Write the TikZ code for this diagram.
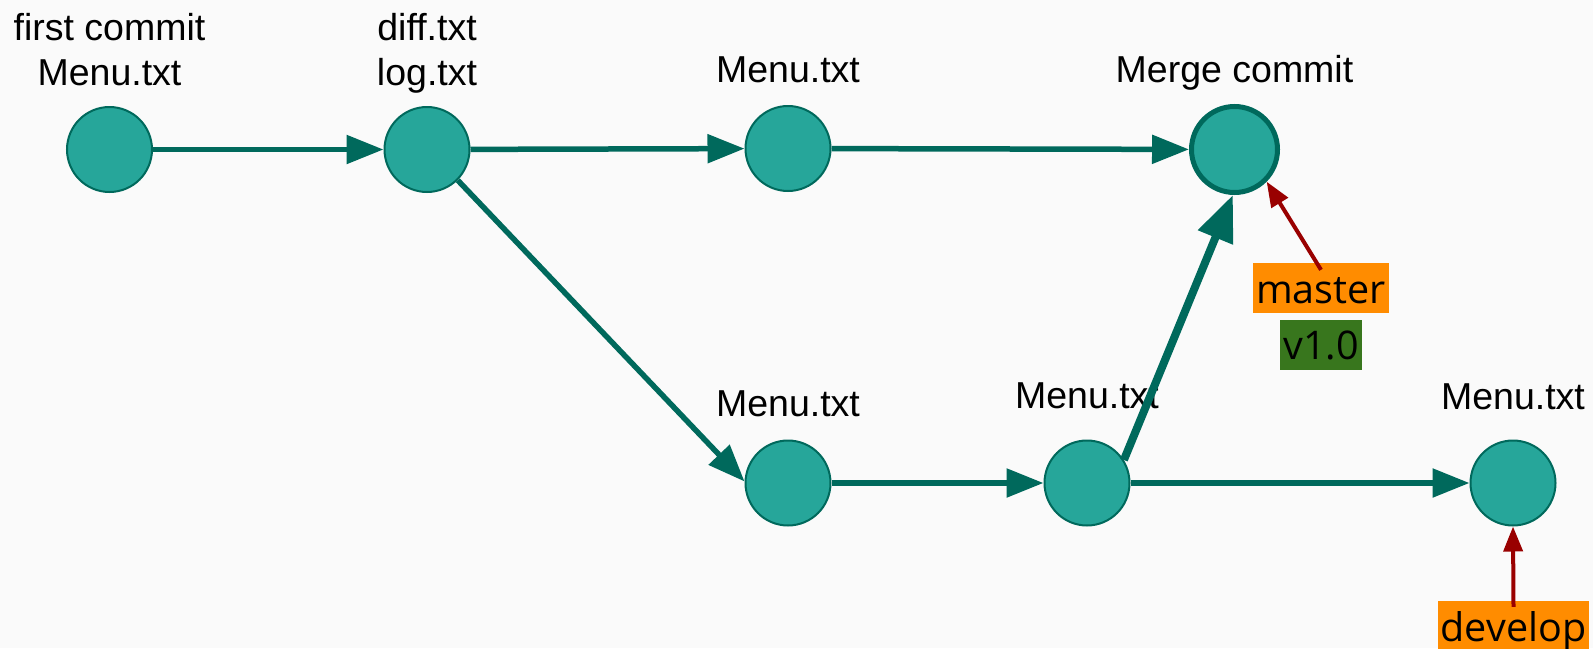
\documentclass[tikz,border=0pt]{standalone}
\usepackage{fontspec}
\setmainfont{Liberation Sans}
\newfontfamily\tagfont{Open Sans}
\usetikzlibrary{arrows.meta,calc}
\definecolor{bg}{HTML}{FAFAFA}
\definecolor{tealfill}{HTML}{26A69A}
\definecolor{tealdark}{HTML}{00695C}
\definecolor{tagred}{HTML}{990000}
\definecolor{tagorange}{HTML}{FF8C00}
\definecolor{taggreen}{HTML}{38761D}
\begin{document}
\begin{tikzpicture}[x=1pt,y=-1pt,
 commit/.style={circle,fill=tealfill,draw=tealdark,line width=2pt,minimum size=85pt,inner sep=0pt},
 mergecommit/.style={commit,line width=5pt,minimum size=86pt},
 lbl/.style={font=\fontsize{37.5}{45}\selectfont,inner sep=0pt,anchor=base},
 lbltwo/.style={font=\fontsize{37.5}{45}\selectfont,inner sep=0pt,anchor=north,align=center},
 edge/.style={draw=tealdark,line width=5.5pt,-{Triangle[length=37pt,width=28pt]}},
 bigedge/.style={draw=tealdark,line width=8pt,-{Triangle[length=46pt,width=36pt]}},
 ptr/.style={draw=tagred,line width=4pt,-{Triangle[length=25pt,width=19pt]}},
 tag/.style={font=\tagfont\fontsize{39.5}{47}\selectfont,inner xsep=3pt,inner ysep=0pt,text height=40pt,text depth=10pt}
]
\fill[bg] (0,0) rectangle (1593,648);
\useasboundingbox (0,0) rectangle (1593,648);

% commits
\node[commit] (A) at (109.5,149.5) {};
\node[commit] (B) at (427,149.5) {};
\node[commit] (C) at (788,148.5) {};
\node[mergecommit] (M) at (1234.5,149.5) {};
\node[commit] (D) at (788,483) {};
\node[commit] (E) at (1087,483) {};
\node[commit] (F) at (1513,483) {};

% labels
\node[lbltwo] (lA) at (109.5,13) {first commit\\Menu.txt};
\node[lbltwo] (lB) at (427,13) {diff.txt\\log.txt};
\node[lbl] (lC) at (788,82) {Menu.txt};
\node[lbl] (lM) at (1234.5,82) {Merge commit};
\node[lbl] (lD) at (788,416) {Menu.txt};
\node[lbl] (lE) at (1087,408) {Menu.txt};
\node[lbl] (lF) at (1513,409) {Menu.txt};

% tags
\node[tag,fill=tagorange] (master) at (1321,288) {master};
\node[tag,fill=taggreen] (v10) at (1321,344.5) {v1.0};
\node[tag,fill=tagorange] (develop) at (1513.5,626) {develop};

% edges
\draw[edge] (A) -- (B);
\draw[edge] (B) -- (C);
\draw[edge] (C) -- (M);
\draw[edge] (B.-45) -- (D.178);
\draw[edge] (D) -- (E);
\draw[edge] (E) -- (F);
\draw[bigedge] (E.32) -- (M.-92);

% branch pointers
\draw[ptr] ($(master.north)+(0,7)$) -- (M.-45);
\draw[ptr] ($(develop.north)+(0,6)$) -- (F.south);
\end{tikzpicture}
\end{document}
